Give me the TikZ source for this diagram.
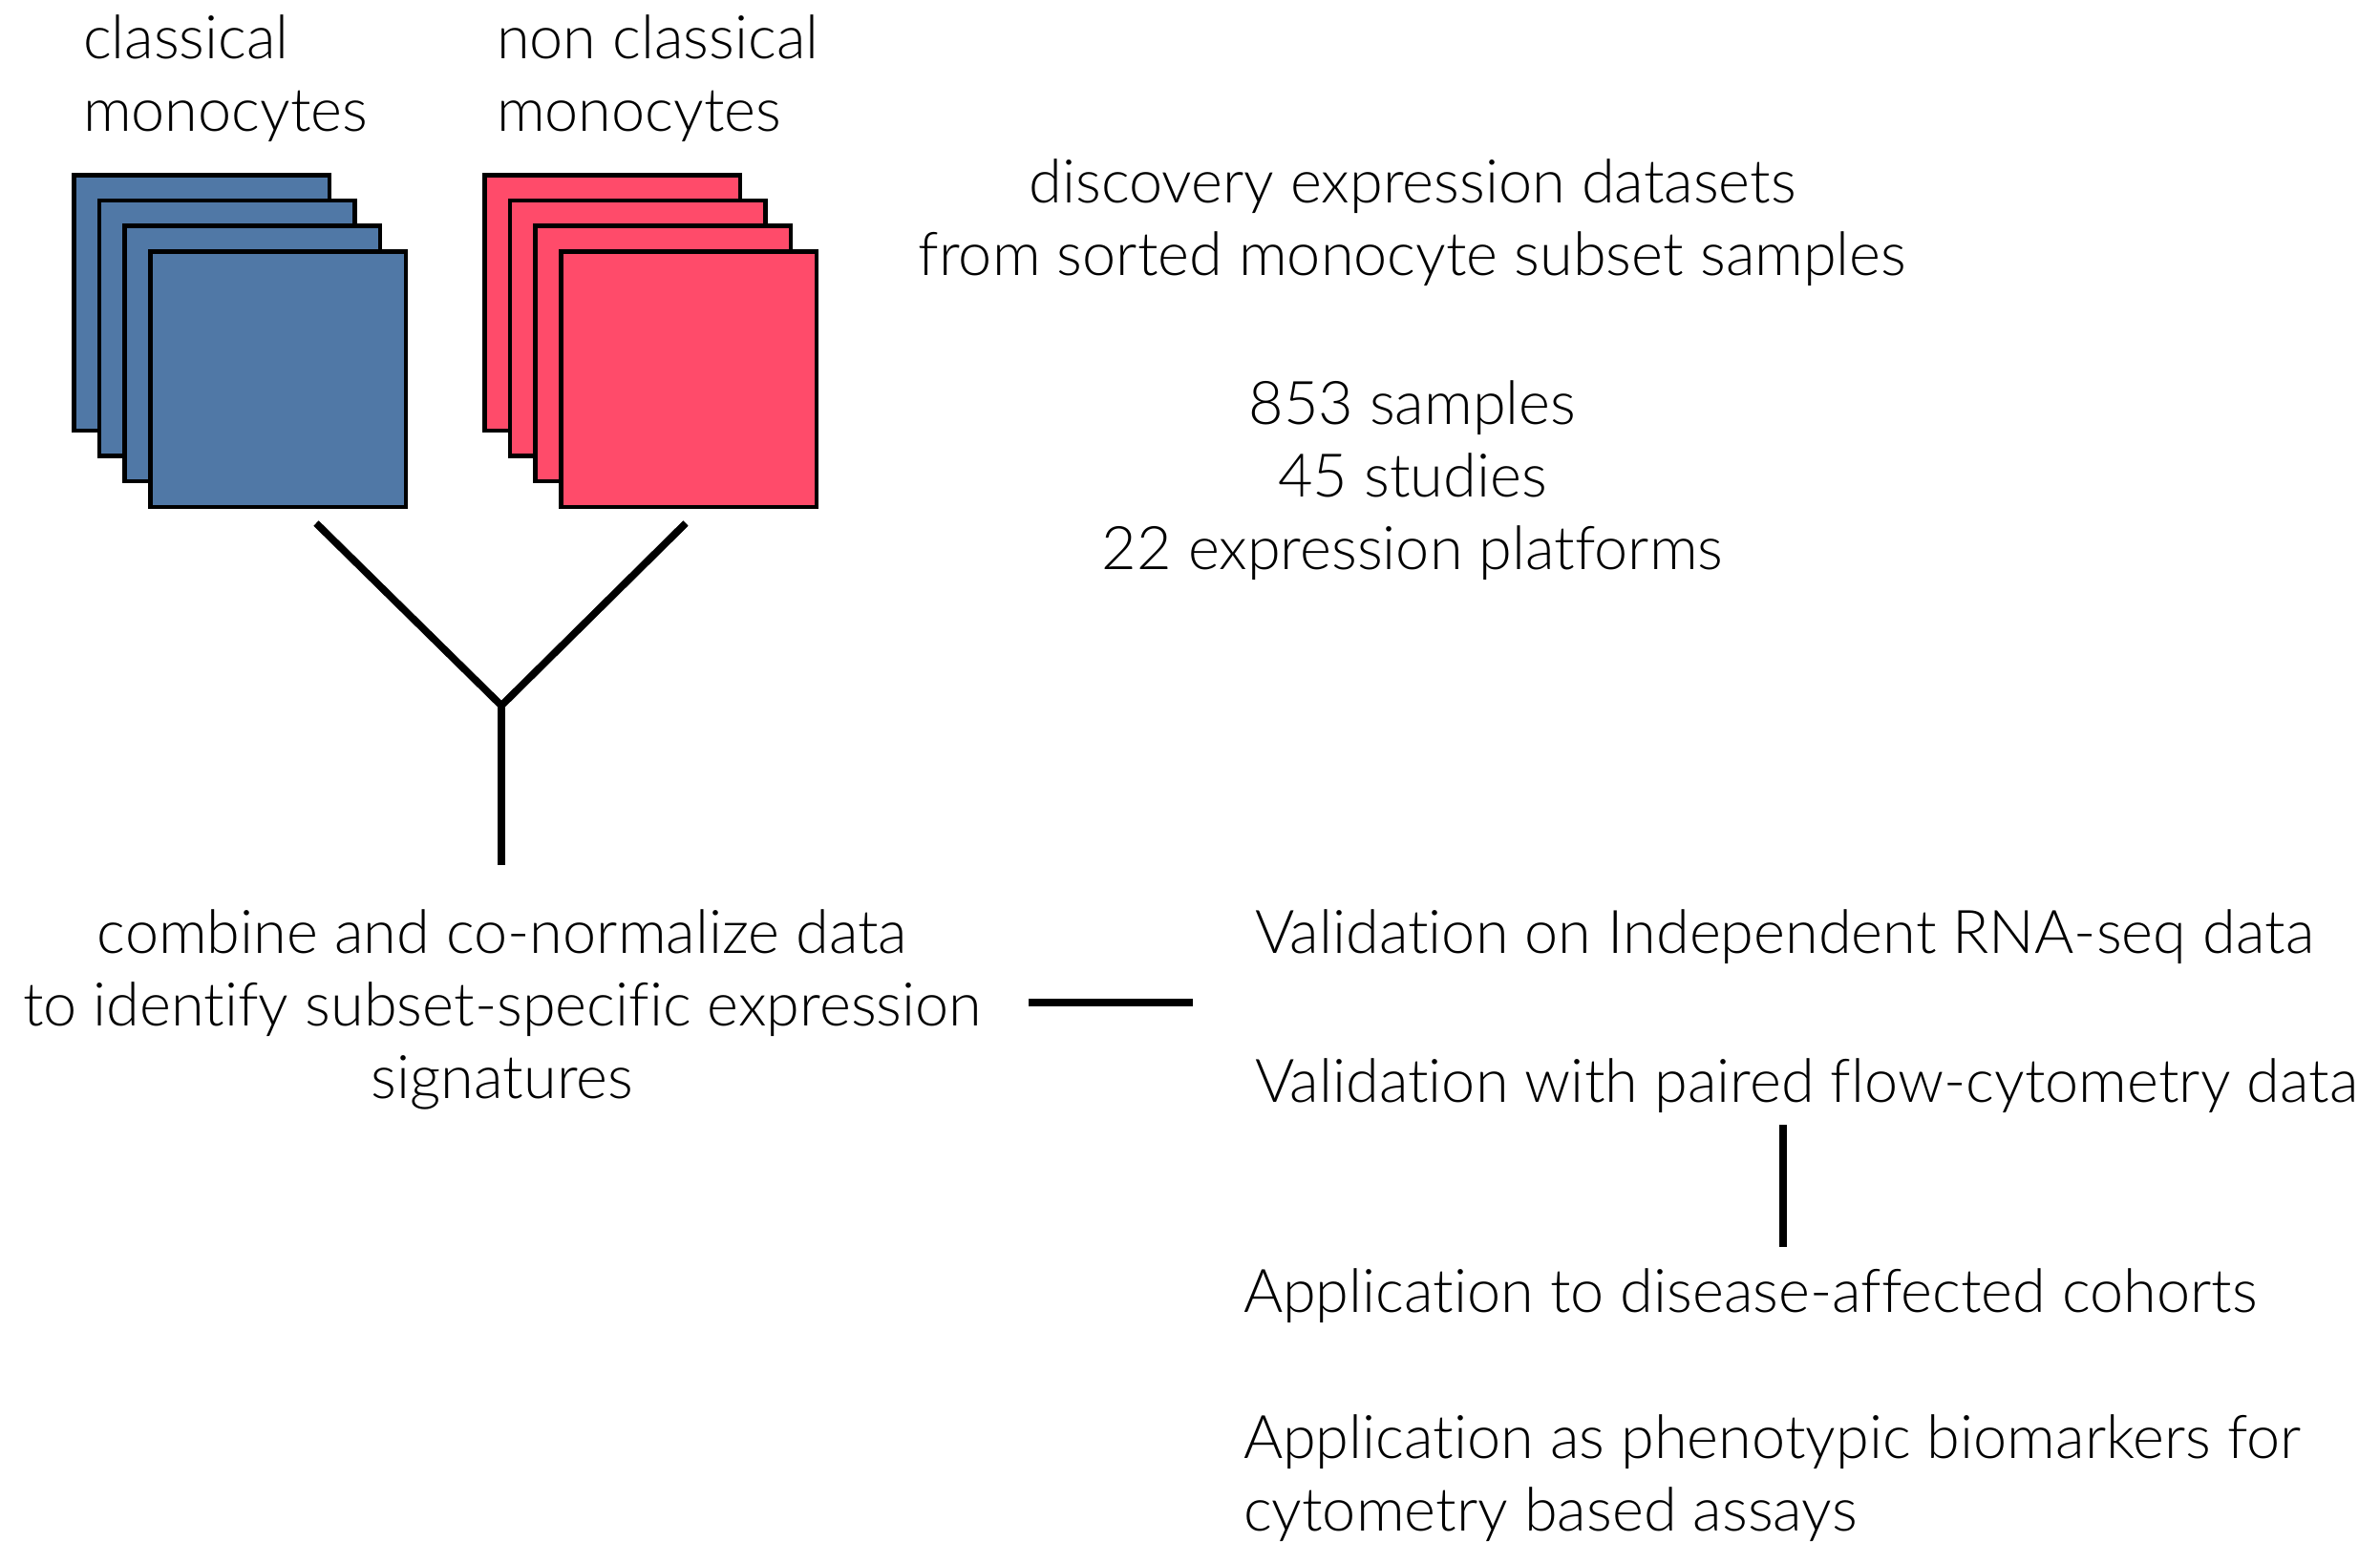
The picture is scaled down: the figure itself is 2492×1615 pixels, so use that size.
\documentclass[tikz,border=0pt]{standalone}
\usepackage{fontspec}
\setmainfont{Lato}[UprightFont={* Light}, Ligatures={NoCommon,NoRare,NoDiscretionary}]
\definecolor{monoBlue}{HTML}{5078A6}
\definecolor{monoRed}{HTML}{FF4B6A}
\begin{document}
\begin{tikzpicture}[x=0.3pt,y=-0.3pt,
  txt/.style={inner sep=0pt, outer sep=0pt, font=\fontsize{18.9}{22}\selectfont},
  leftTxt/.style={txt, anchor=base west},
  midTxt/.style={txt, anchor=base},
  sheet/.style={draw=black, line width=1.35pt, minimum size=80.25pt,
    inner sep=0pt, outer sep=0pt, anchor=north west},
  blueSheet/.style={sheet, fill=monoBlue},
  redSheet/.style={sheet, fill=monoRed},
  link/.style={line width=2.3pt, line cap=butt, line join=miter}]
\useasboundingbox (0,0) rectangle (2492,1615);

% stacked sample sheets, back to front
\foreach \i in {0,1,2,3} {
  \node[blueSheet] (b\i) at (77.3+26.7*\i, 183.3+26.7*\i) {};
}
\foreach \i in {0,1,2,3} {
  \node[redSheet] (r\i) at (507.3+26.7*\i, 183.3+26.7*\i) {};
}

% headings above the stacks
\node[leftTxt] (cm1) at (87,62) {classical};
\node[leftTxt] (cm2) at (87,138) {monocytes};
\node[leftTxt] (nc1) at (520,62) {non classical};
\node[leftTxt] (nc2) at (520,138) {monocytes};

% dataset description
\node[midTxt] (d1) at (1479,213) {discovery expression datasets};
\node[midTxt] (d2) at (1479,289) {from sorted monocyte subset samples};
\node[midTxt] (s1) at (1479,445) {853 samples};
\node[midTxt] (s2) at (1479,521) {45 studies};
\node[midTxt] (s3) at (1479,597) {22 expression platforms};

% combination step
\node[midTxt] (c1) at (526,998) {combine and co-normalize data};
\node[midTxt] (c2) at (526,1074) {to identify subset-specific expression};
\node[midTxt] (c3) at (526,1150) {signatures};

% validation and application
\node[leftTxt] (v1) at (1314,998) {Validation on Independent RNA-seq data};
\node[leftTxt] (v2) at (1314,1154) {Validation with paired flow-cytometry data};
\node[leftTxt] (a1) at (1302,1374) {Application to disease-affected cohorts};
\node[leftTxt] (a2) at (1302,1527) {Application as phenotypic biomarkers for};
\node[leftTxt] (a3) at (1302,1603) {cytometry based assays};

% merging connector
\coordinate (yl) at (331,548);
\coordinate (yr) at (718,548);
\coordinate (yj) at (525,739);
\coordinate (yb) at (525,906);
\draw[link] (yl) -- (yj) -- (yr);
\draw[link] (yj) -- (yb);

% links to the validation column
\coordinate (hl) at (1077,1050);
\coordinate (hr) at (1249,1050);
\draw[link] (hl) -- (hr);
\coordinate (vt) at (1867,1178);
\coordinate (vb) at (1867,1306);
\draw[link] (vt) -- (vb);
\end{tikzpicture}
\end{document}
